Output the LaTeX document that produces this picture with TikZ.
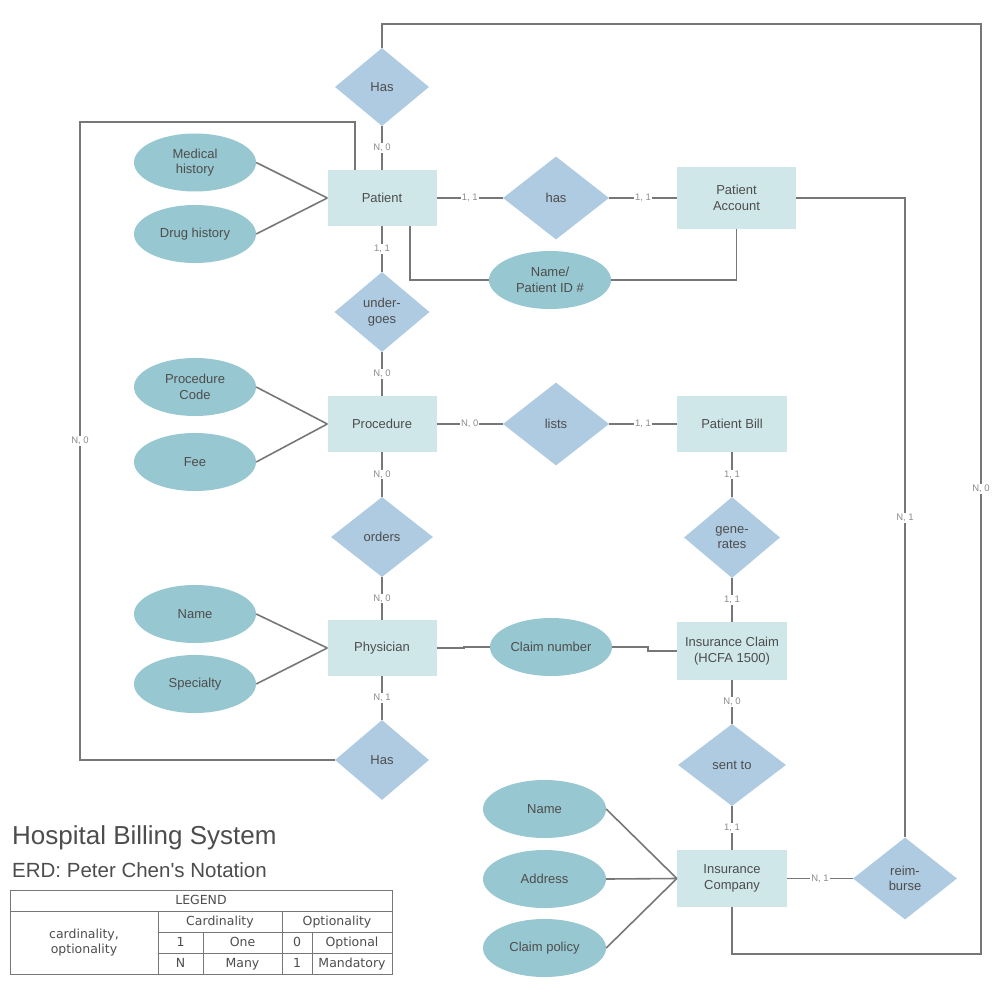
\documentclass[tikz,border=0pt]{standalone}
\usepackage{fontspec}
\setmainfont{Liberation Sans}
\newfontfamily\legfont{DejaVu Sans}
\usetikzlibrary{shapes.geometric}
\definecolor{entfill}{HTML}{CFE7E9}
\definecolor{relfill}{HTML}{AFCBE2}
\definecolor{attfill}{HTML}{97C7D0}
\definecolor{linec}{HTML}{777777}
\definecolor{txt}{HTML}{4D4D4D}
\definecolor{lblc}{HTML}{8C8C8C}
\tikzset{
 ent/.style={rectangle, fill=entfill, inner sep=0pt, align=center, text=txt, font=\fontsize{13}{15.5}\selectfont},
 rel/.style={diamond, fill=relfill, inner sep=0pt, align=center, text=txt, font=\fontsize{13}{15.5}\selectfont},
 att/.style={ellipse, fill=attfill, inner sep=0pt, minimum width=122pt, minimum height=58pt, align=center, text=txt, font=\fontsize{13}{15.5}\selectfont},
 conn/.style={draw=linec, line width=1.6pt},
 lbl/.style={fill=white, inner sep=1pt, text=lblc, font=\fontsize{9.5}{11}\selectfont},
 legline/.style={draw=linec, line width=0.9pt},
 legtxt/.style={inner sep=0pt, text=txt, align=center, text height=9.5pt, text depth=2.5pt, font=\legfont\fontsize{12.5}{14.5}\selectfont},
}
\begin{document}
\begin{tikzpicture}[x=1pt,y=-1pt]
\useasboundingbox (0,0) rectangle (1000,1000);
% entities
\node[ent, minimum width=109pt, minimum height=56pt] (pat) at (382,198) {Patient};
\node[ent, minimum width=119pt, minimum height=62pt] (pa) at (736.5,198) {Patient\\Account};
\node[ent, minimum width=109pt, minimum height=56pt] (proc) at (382,424) {Procedure};
\node[ent, minimum width=110pt, minimum height=56pt] (pb) at (732,424) {Patient Bill};
\node[ent, minimum width=109pt, minimum height=56pt] (phy) at (382,648) {Physician};
\node[ent, minimum width=110pt, minimum height=58pt] (ic) at (732,651) {Insurance Claim\\(HCFA 1500)};
\node[ent, minimum width=110pt, minimum height=57pt] (ico) at (732,878.5) {Insurance\\Company};
% relationships
\node[rel, minimum width=94pt, minimum height=78pt] (has1) at (382,87) {Has};
\node[rel, minimum width=106pt, minimum height=83pt] (has) at (556,198) {has};
\node[rel, minimum width=95pt, minimum height=80pt] (und) at (382,312) {under-\\goes};
\node[rel, minimum width=106pt, minimum height=83pt] (lists) at (556,424) {lists};
\node[rel, minimum width=102pt, minimum height=80pt] (ord) at (382,537) {orders};
\node[rel, minimum width=96pt, minimum height=81pt] (gen) at (732,537.5) {gene-\\rates};
\node[rel, minimum width=94pt, minimum height=80pt] (has2) at (382,760) {Has};
\node[rel, minimum width=108pt, minimum height=82pt] (sent) at (732,765) {sent to};
\node[rel, minimum width=104pt, minimum height=82pt] (reim) at (905,878.5) {reim-\\burse};
% attributes
\node[att] (mh) at (195,162.5) {Medical\\history};
\node[att] (dh) at (195,234) {Drug history};
\node[att] (nid) at (550,280) {Name/\\Patient ID \#};
\node[att] (pc) at (195,387) {Procedure\\Code};
\node[att] (fee) at (195,462) {Fee};
\node[att] (nm) at (195,614) {Name};
\node[att] (sp) at (195,684) {Specialty};
\node[att] (cn) at (551,647) {Claim number};
\node[att, minimum width=123pt] (nm2) at (544.5,809) {Name};
\node[att, minimum width=123pt] (addr) at (544.5,879) {Address};
\node[att, minimum width=123pt] (cp) at (544.5,948) {Claim policy};
% free corner points
\coordinate (lp1) at (80,122);
\coordinate (lp2) at (80,760);
\coordinate (tr) at (981,24);
\coordinate (br) at (981,954);
\coordinate (pr) at (905,198);
% connectors
\draw[conn] (has1.south) -- node[lbl]{N, 0} (pat.north);
\draw[conn] (pat.east) -- node[lbl]{1, 1} (has.west);
\draw[conn] (has.east) -- node[lbl]{1, 1} (pa.west);
\draw[conn] (pat.south) -- node[lbl]{1, 1} (und.north);
\draw[conn] (und.south) -- node[lbl]{N, 0} (proc.north);
\draw[conn] (proc.east) -- node[lbl]{N, 0} (lists.west);
\draw[conn] (lists.east) -- node[lbl]{1, 1} (pb.west);
\draw[conn] (proc.south) -- node[lbl]{N, 0} (ord.north);
\draw[conn] (ord.south) -- node[lbl]{N, 0} (phy.north);
\draw[conn] (phy.south) -- node[lbl]{N, 1} (has2.north);
\draw[conn] (pb.south) -- node[lbl]{1, 1} (gen.north);
\draw[conn] (gen.south) -- node[lbl]{1, 1} (ic.north);
\draw[conn] (ic.south) -- node[lbl]{N, 0} (sent.north);
\draw[conn] (sent.south) -- node[lbl]{1, 1} (ico.north);
\draw[conn] (ico.east) -- node[lbl]{N, 1} (reim.west);
% loops
\draw[conn] ([xshift=-27pt]pat.north) |- (lp1) -- node[lbl]{N, 0} (lp2) -- (has2.west);
\draw[conn] (has1.north) |- (tr) -- node[lbl]{N, 0} (br) -| (ico.south);
\draw[conn] (pa.east) -- (pr) -- node[lbl]{N, 1} (reim.north);
\draw[conn] ([xshift=28pt]pat.south) |- (nid.west);
\draw[conn] (nid.east) -| (pa.south);
\draw[conn] (phy.east) -- ++(27,0) |- (cn.west);
\draw[conn] (cn.east) -- ++(36,0) |- (ic.west);
% attribute lines
\draw[conn] (mh.east) -- (pat.west);
\draw[conn] (dh.east) -- (pat.west);
\draw[conn] (pc.east) -- (proc.west);
\draw[conn] (fee.east) -- (proc.west);
\draw[conn] (nm.east) -- (phy.west);
\draw[conn] (sp.east) -- (phy.west);
\draw[conn] (nm2.east) -- (ico.west);
\draw[conn] (addr.east) -- (ico.west);
\draw[conn] (cp.east) -- (ico.west);
% titles
\node[anchor=west, inner sep=0pt, text=txt, font=\fontsize{26}{30}\selectfont] (title) at (12,838) {Hospital Billing System};
\node[anchor=west, inner sep=0pt, text=txt, font=\fontsize{20.5}{24}\selectfont] (subtitle) at (12,870) {ERD: Peter Chen\textquotesingle s Notation};
% legend
\draw[legline] (10,890) rectangle (392,974);
\draw[legline] (10,911) -- (392,911);
\draw[legline] (158,932) -- (392,932);
\draw[legline] (158,953) -- (392,953);
\draw[legline] (158,911) -- (158,974);
\draw[legline] (282,911) -- (282,974);
\draw[legline] (203,932) -- (203,974);
\draw[legline] (312,932) -- (312,974);
\node[legtxt] (lg) at (201,900.5) {LEGEND};
\node[legtxt, text height=, text depth=] (lgco) at (84,942.5) {cardinality,\\optionality};
\node[legtxt] (lgc) at (220,921.5) {Cardinality};
\node[legtxt] (lgo) at (337,921.5) {Optionality};
\node[legtxt] (l1) at (180.5,942.5) {1};
\node[legtxt] (l2) at (242.5,942.5) {One};
\node[legtxt] (l3) at (297,942.5) {0};
\node[legtxt] (l4) at (352,942.5) {Optional};
\node[legtxt] (l5) at (180.5,963.5) {N};
\node[legtxt] (l6) at (242.5,963.5) {Many};
\node[legtxt] (l7) at (297,963.5) {1};
\node[legtxt] (l8) at (352,963.5) {Mandatory};
\end{tikzpicture}
\end{document}
